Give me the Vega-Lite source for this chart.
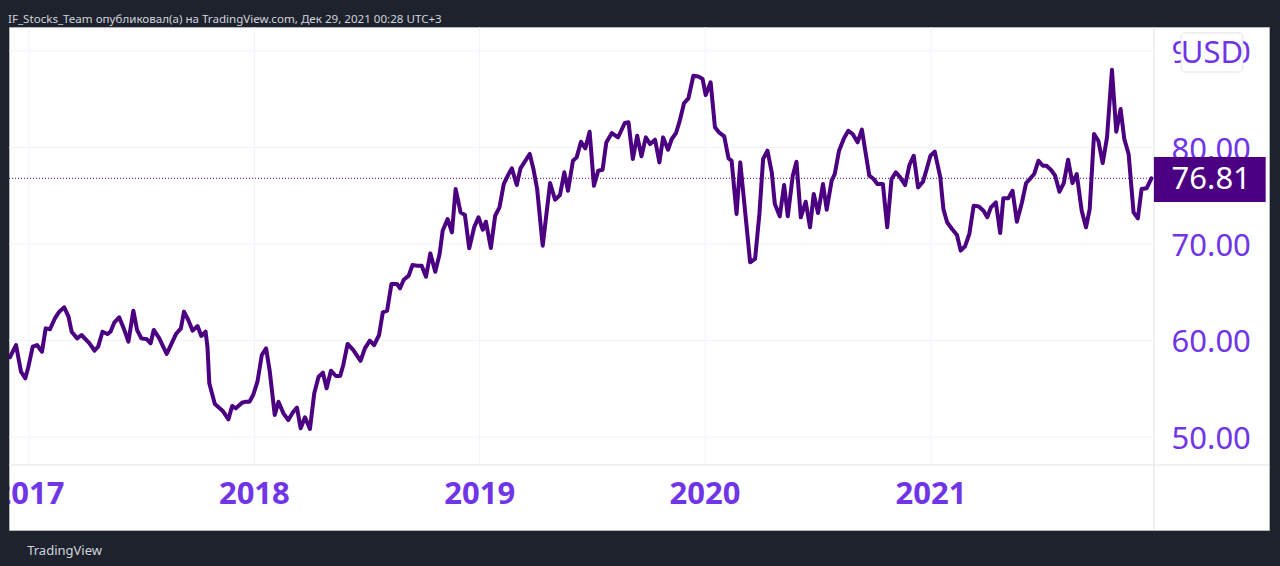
{
  "$schema": "https://vega.github.io/schema/vega-lite/v6.json",
  "width": 1260,
  "height": 503,
  "autosize": {"type": "none"},
  "padding": {"left": 9, "top": 27, "right": 11, "bottom": 36},
  "background": "#1e222d",
  "config": {"view": {"fill": "#ffffff", "stroke": "#b2b5be", "strokeWidth": 1}, "font": "Noto Sans"},
  "title": {"text": "IF_Stocks_Team опубликовал(а) на TradingView.com, Дек 29, 2021 00:28 UTC+3", "anchor": "start", "frame": "group", "fontSize": 11.6, "fontWeight": "normal", "color": "#d1d4dc", "font": "Noto Sans", "baseline": "alphabetic", "offset": 7, "dx": -1, "dy": 15},
  "datasets": {
    "prices": [
      {"date":"2016-12-01","price":58.26},{"date":"2016-12-11","price":59.53},{"date":"2016-12-19","price":56.77},{"date":"2016-12-26","price":56.08},{"date":"2016-12-31","price":57.29},
      {"date":"2017-01-07","price":59.36},{"date":"2017-01-14","price":59.53},{"date":"2017-01-22","price":58.84},{"date":"2017-01-28","price":61.26},{"date":"2017-02-04","price":61.16},
      {"date":"2017-02-12","price":62.30},{"date":"2017-02-19","price":62.99},{"date":"2017-02-27","price":63.44},{"date":"2017-03-06","price":62.47},{"date":"2017-03-11","price":60.91},
      {"date":"2017-03-20","price":60.22},{"date":"2017-03-27","price":60.57},{"date":"2017-04-09","price":59.71},{"date":"2017-04-17","price":58.94},{"date":"2017-04-23","price":59.36},
      {"date":"2017-04-30","price":60.91},{"date":"2017-05-08","price":60.67},{"date":"2017-05-13","price":60.91},{"date":"2017-05-19","price":61.85},{"date":"2017-05-27","price":62.40},
      {"date":"2017-06-04","price":61.16},{"date":"2017-06-11","price":59.88},{"date":"2017-06-19","price":63.09},{"date":"2017-06-25","price":61.09},{"date":"2017-07-02","price":60.22},
      {"date":"2017-07-11","price":60.12},{"date":"2017-07-17","price":59.71},{"date":"2017-07-22","price":61.09},{"date":"2017-07-31","price":60.22},{"date":"2017-08-12","price":58.60},
      {"date":"2017-08-20","price":59.71},{"date":"2017-08-27","price":60.67},{"date":"2017-09-04","price":61.26},{"date":"2017-09-09","price":62.99},{"date":"2017-09-16","price":62.12},
      {"date":"2017-09-23","price":61.02},{"date":"2017-10-01","price":61.50},{"date":"2017-10-07","price":60.47},{"date":"2017-10-14","price":60.91},{"date":"2017-10-17","price":59.36},
      {"date":"2017-10-20","price":55.56},{"date":"2017-10-29","price":53.42},{"date":"2017-11-11","price":52.69},{"date":"2017-11-20","price":51.83},{"date":"2017-11-26","price":53.21},
      {"date":"2017-12-02","price":52.97},{"date":"2017-12-12","price":53.55},{"date":"2017-12-18","price":53.66},{"date":"2017-12-24","price":53.66},{"date":"2017-12-30","price":54.35},
      {"date":"2018-01-06","price":55.73},{"date":"2018-01-13","price":58.50},{"date":"2018-01-20","price":59.19},{"date":"2018-01-26","price":56.77},{"date":"2018-02-03","price":52.28},
      {"date":"2018-02-09","price":53.66},{"date":"2018-02-17","price":52.45},{"date":"2018-02-25","price":51.76},{"date":"2018-03-04","price":52.52},{"date":"2018-03-11","price":53.04},
      {"date":"2018-03-17","price":50.90},{"date":"2018-03-24","price":52.04},{"date":"2018-04-01","price":50.83},{"date":"2018-04-08","price":54.53},{"date":"2018-04-15","price":56.25},
      {"date":"2018-04-22","price":56.66},{"date":"2018-04-28","price":55.05},{"date":"2018-05-05","price":56.87},{"date":"2018-05-13","price":56.32},{"date":"2018-05-20","price":56.32},
      {"date":"2018-05-25","price":57.46},{"date":"2018-06-01","price":59.64},{"date":"2018-06-10","price":59.02},{"date":"2018-06-22","price":57.88},{"date":"2018-06-29","price":59.19},
      {"date":"2018-07-07","price":59.98},{"date":"2018-07-14","price":59.53},{"date":"2018-07-22","price":60.57},{"date":"2018-07-28","price":62.92},{"date":"2018-08-04","price":63.09},
      {"date":"2018-08-11","price":65.85},{"date":"2018-08-20","price":65.85},{"date":"2018-08-25","price":65.41},{"date":"2018-08-31","price":66.30},{"date":"2018-09-08","price":66.72},
      {"date":"2018-09-14","price":67.82},{"date":"2018-09-22","price":67.75},{"date":"2018-09-29","price":67.75},{"date":"2018-10-06","price":66.61},{"date":"2018-10-13","price":69.03},
      {"date":"2018-10-21","price":67.13},{"date":"2018-10-28","price":68.96},{"date":"2018-11-02","price":71.38},{"date":"2018-11-10","price":72.59},{"date":"2018-11-17","price":71.21},
      {"date":"2018-11-23","price":75.70},{"date":"2018-12-01","price":73.28},{"date":"2018-12-08","price":73.00},{"date":"2018-12-15","price":69.55},{"date":"2018-12-23","price":71.73},
      {"date":"2018-12-30","price":72.77},{"date":"2019-01-06","price":71.48},{"date":"2019-01-11","price":72.31},{"date":"2019-01-19","price":69.59},{"date":"2019-01-26","price":72.93},
      {"date":"2019-02-02","price":73.80},{"date":"2019-02-09","price":76.22},{"date":"2019-02-16","price":77.15},{"date":"2019-02-22","price":77.84},{"date":"2019-03-02","price":76.11},
      {"date":"2019-03-08","price":77.84},{"date":"2019-03-23","price":79.33},{"date":"2019-03-29","price":77.77},{"date":"2019-04-04","price":75.70},{"date":"2019-04-13","price":69.83},
      {"date":"2019-04-25","price":76.32},{"date":"2019-05-03","price":74.59},{"date":"2019-05-11","price":75.08},{"date":"2019-05-18","price":77.43},{"date":"2019-05-24","price":75.52},
      {"date":"2019-06-01","price":78.63},{"date":"2019-06-07","price":78.98},{"date":"2019-06-14","price":80.60},{"date":"2019-06-21","price":79.91},{"date":"2019-06-28","price":81.64},
      {"date":"2019-07-05","price":76.04},{"date":"2019-07-12","price":77.60},{"date":"2019-07-19","price":77.70},{"date":"2019-07-25","price":80.53},{"date":"2019-08-03","price":81.50},
      {"date":"2019-08-13","price":81.05},{"date":"2019-08-24","price":82.54},{"date":"2019-08-30","price":82.61},{"date":"2019-09-06","price":78.81},{"date":"2019-09-13","price":81.22},
      {"date":"2019-09-20","price":79.09},{"date":"2019-09-27","price":81.05},{"date":"2019-10-04","price":80.36},{"date":"2019-10-12","price":80.81},{"date":"2019-10-19","price":78.46},
      {"date":"2019-10-25","price":81.05},{"date":"2019-11-02","price":79.77},{"date":"2019-11-08","price":80.88},{"date":"2019-11-15","price":81.50},{"date":"2019-11-21","price":82.78},
      {"date":"2019-11-28","price":84.61},{"date":"2019-12-05","price":85.09},{"date":"2019-12-13","price":87.44},{"date":"2019-12-21","price":87.37},{"date":"2019-12-28","price":87.10},
      {"date":"2020-01-02","price":85.44},{"date":"2020-01-10","price":86.76},{"date":"2020-01-17","price":82.09},{"date":"2020-01-23","price":81.60},{"date":"2020-02-01","price":81.16},
      {"date":"2020-02-08","price":78.88},{"date":"2020-02-13","price":78.63},{"date":"2020-02-21","price":73.11},{"date":"2020-02-27","price":78.46},{"date":"2020-03-06","price":73.28},
      {"date":"2020-03-14","price":68.10},{"date":"2020-03-22","price":68.45},{"date":"2020-03-29","price":73.11},{"date":"2020-04-04","price":78.81},{"date":"2020-04-11","price":79.67},
      {"date":"2020-04-18","price":77.43},{"date":"2020-04-23","price":74.15},{"date":"2020-05-01","price":72.87},{"date":"2020-05-08","price":76.11},{"date":"2020-05-14","price":72.87},
      {"date":"2020-05-22","price":77.08},{"date":"2020-05-28","price":78.53},{"date":"2020-06-04","price":72.77},{"date":"2020-06-12","price":74.38},{"date":"2020-06-19","price":71.73},
      {"date":"2020-06-25","price":75.18},{"date":"2020-07-02","price":73.21},{"date":"2020-07-10","price":76.22},{"date":"2020-07-16","price":73.55},{"date":"2020-07-24","price":76.56},
      {"date":"2020-07-29","price":77.25},{"date":"2020-08-05","price":79.67},{"date":"2020-08-13","price":80.95},{"date":"2020-08-20","price":81.74},{"date":"2020-08-27","price":81.40},
      {"date":"2020-09-04","price":80.54},{"date":"2020-09-11","price":81.85},{"date":"2020-09-16","price":79.84},{"date":"2020-09-23","price":77.08},{"date":"2020-09-30","price":76.74},
      {"date":"2020-10-06","price":76.22},{"date":"2020-10-15","price":76.22},{"date":"2020-10-22","price":71.73},{"date":"2020-10-29","price":76.74},{"date":"2020-11-05","price":77.43},
      {"date":"2020-11-12","price":76.91},{"date":"2020-11-20","price":76.11},{"date":"2020-11-27","price":78.19},{"date":"2020-12-04","price":79.15},{"date":"2020-12-11","price":75.87},
      {"date":"2020-12-19","price":76.46},{"date":"2020-12-25","price":77.77},{"date":"2020-12-31","price":79.15},{"date":"2021-01-07","price":79.57},{"date":"2021-01-16","price":76.91},
      {"date":"2021-01-21","price":73.63},{"date":"2021-01-27","price":72.25},{"date":"2021-02-04","price":71.55},{"date":"2021-02-12","price":70.93},{"date":"2021-02-18","price":69.31},
      {"date":"2021-02-25","price":69.76},{"date":"2021-03-04","price":71.04},{"date":"2021-03-11","price":73.97},{"date":"2021-03-19","price":73.90},{"date":"2021-03-27","price":73.45},
      {"date":"2021-04-02","price":72.77},{"date":"2021-04-08","price":73.80},{"date":"2021-04-16","price":74.31},{"date":"2021-04-23","price":71.14},{"date":"2021-04-28","price":74.73},
      {"date":"2021-05-06","price":74.73},{"date":"2021-05-13","price":75.52},{"date":"2021-05-20","price":72.31},{"date":"2021-05-28","price":74.25},{"date":"2021-06-04","price":76.32},
      {"date":"2021-06-11","price":76.81},{"date":"2021-06-17","price":77.25},{"date":"2021-06-24","price":78.63},{"date":"2021-07-01","price":78.11},{"date":"2021-07-07","price":78.11},
      {"date":"2021-07-14","price":77.70},{"date":"2021-07-21","price":77.08},{"date":"2021-07-28","price":75.42},{"date":"2021-08-04","price":76.32},{"date":"2021-08-11","price":78.74},
      {"date":"2021-08-18","price":76.32},{"date":"2021-08-25","price":77.25},{"date":"2021-09-02","price":73.45},{"date":"2021-09-09","price":71.73},{"date":"2021-09-15","price":73.63},
      {"date":"2021-09-22","price":81.40},{"date":"2021-09-29","price":80.70},{"date":"2021-10-06","price":78.39},{"date":"2021-10-13","price":81.05},{"date":"2021-10-21","price":88.05},
      {"date":"2021-10-28","price":81.64},{"date":"2021-11-04","price":83.99},{"date":"2021-11-10","price":80.88},{"date":"2021-11-17","price":79.33},{"date":"2021-11-25","price":73.28},
      {"date":"2021-12-02","price":72.66},{"date":"2021-12-08","price":75.70},{"date":"2021-12-16","price":75.77},{"date":"2021-12-24","price":76.81}
    ],
    "years": [
      {"yr":"2017-01-01","label":"2017"},{"yr":"2018-01-01","label":"2018"},{"yr":"2019-01-01","label":"2019"},{"yr":"2020-01-01","label":"2020"},{"yr":"2021-01-01","label":"2021"}
    ],
    "levels": [{"p":50},{"p":60},{"p":70},{"p":80},{"p":90}],
    "one": [{}]
  },
  "layer": [
    {
      "data": {"name": "levels"},
      "mark": {"type": "rule", "color": "#f0f3fa", "strokeWidth": 1},
      "encoding": {
        "y": {"field": "p", "type": "quantitative", "scale": {"domain": [40.36, 92.49], "nice": false, "zero": false}, "axis": null},
        "x": {"datum": {"year": 2016, "month": 11, "date": 29, "hours": 14}, "type": "temporal",
              "scale": {"domain": [{"year": 2016, "month": 11, "date": 29, "hours": 14}, {"year": 2022, "month": 7, "date": 2, "hours": 9}]}, "axis": null},
        "x2": {"datum": {"year": 2021, "month": 12, "date": 28}}
      }
    },
    {
      "data": {"name": "years"},
      "mark": {"type": "rule", "color": "#f0f3fa", "strokeWidth": 1},
      "encoding": {
        "x": {"field": "yr", "type": "temporal", "axis": null},
        "y": {"datum": 47.10, "type": "quantitative", "axis": null},
        "y2": {"datum": 92.49}
      }
    },
    {
      "data": {"name": "years"},
      "mark": {"type": "text", "clip": true, "fontSize": 31, "fontWeight": "bold", "font": "Noto Sans", "color": "#7035e6", "align": "center", "baseline": "middle"},
      "encoding": {
        "x": {"field": "yr", "type": "temporal", "axis": null},
        "y": {"datum": 44.0, "type": "quantitative", "axis": null},
        "text": {"field": "label"}
      }
    },
    {
      "data": {"name": "levels"},
      "mark": {"type": "text", "fontSize": 31, "font": "Noto Sans", "color": "#7035e6", "align": "right", "baseline": "middle", "dy": 3},
      "encoding": {
        "x": {"datum": {"year": 2022, "month": 6, "date": 3}, "type": "temporal", "axis": null},
        "y": {"field": "p", "type": "quantitative", "axis": null},
        "text": {"field": "p", "type": "quantitative", "format": ".2f"}
      }
    },
    {
      "data": {"name": "one"},
      "mark": {"type": "rule", "color": "#e0e3eb", "strokeWidth": 1},
      "encoding": {
        "x": {"datum": {"year": 2021, "month": 12, "date": 28}, "type": "temporal", "axis": null},
        "y": {"datum": 40.36, "type": "quantitative", "axis": null},
        "y2": {"datum": 92.49}
      }
    },
    {
      "data": {"name": "one"},
      "mark": {"type": "rule", "color": "#e0e3eb", "strokeWidth": 1},
      "encoding": {
        "y": {"datum": 47.10, "type": "quantitative", "axis": null},
        "x": {"datum": {"year": 2016, "month": 11, "date": 29, "hours": 14}, "type": "temporal", "axis": null},
        "x2": {"datum": {"year": 2022, "month": 7, "date": 2, "hours": 9}}
      }
    },
    {
      "data": {"name": "one"},
      "mark": {"type": "rule", "color": "#4b0082", "strokeWidth": 1, "strokeDash": [1, 2]},
      "encoding": {
        "y": {"datum": 76.81, "type": "quantitative", "axis": null},
        "x": {"datum": {"year": 2016, "month": 11, "date": 29, "hours": 14}, "type": "temporal", "axis": null},
        "x2": {"datum": {"year": 2021, "month": 12, "date": 28}}
      }
    },
    {
      "data": {"name": "prices"},
      "mark": {"type": "line", "color": "#4b0082", "strokeWidth": 4, "strokeJoin": "round", "strokeCap": "round", "clip": true},
      "encoding": {
        "x": {"field": "date", "type": "temporal", "axis": null},
        "y": {"field": "price", "type": "quantitative", "axis": null}
      }
    },
    {
      "data": {"name": "one"},
      "mark": {"type": "rect", "fill": "#4b0082"},
      "encoding": {
        "x": {"datum": {"year": 2021, "month": 12, "date": 28}, "type": "temporal", "axis": null},
        "x2": {"datum": {"year": 2022, "month": 6, "date": 27}},
        "y": {"datum": 79.02, "type": "quantitative", "axis": null},
        "y2": {"datum": 74.35}
      }
    },
    {
      "data": {"name": "one"},
      "mark": {"type": "text", "color": "#ffffff", "fontSize": 31, "font": "Noto Sans", "align": "right", "baseline": "middle", "dy": 2},
      "encoding": {
        "x": {"datum": {"year": 2022, "month": 6, "date": 3}, "type": "temporal", "axis": null},
        "y": {"datum": 76.81, "type": "quantitative", "axis": null},
        "text": {"datum": "76.81"}
      }
    },
    {
      "data": {"name": "one"},
      "mark": {"type": "rect", "fill": "#ffffff", "stroke": "#e0e3eb", "strokeWidth": 1, "cornerRadius": 4},
      "encoding": {
        "x": {"datum": {"year": 2022, "month": 2, "date": 10}, "type": "temporal", "axis": null},
        "x2": {"datum": {"year": 2022, "month": 5, "date": 21}},
        "y": {"datum": 91.87, "type": "quantitative", "axis": null},
        "y2": {"datum": 87.82}
      }
    },
    {
      "data": {"name": "one"},
      "mark": {"type": "text", "color": "#7035e6", "fontSize": 31, "font": "Noto Sans", "align": "center", "baseline": "middle", "dy": 2},
      "encoding": {
        "x": {"datum": {"year": 2022, "month": 4, "date": 1}, "type": "temporal", "axis": null},
        "y": {"datum": 89.85, "type": "quantitative", "axis": null},
        "text": {"datum": "USD"}
      }
    },
    {
      "data": {"name": "one"},
      "mark": {"type": "text", "color": "#d1d4dc", "fontSize": 13, "font": "Noto Sans", "align": "left", "baseline": "alphabetic", "dy": 4},
      "encoding": {
        "x": {"datum": {"year": 2016, "month": 12, "date": 29}, "type": "temporal", "axis": null},
        "y": {"datum": 38.19, "type": "quantitative", "axis": null},
        "text": {"datum": "TradingView"}
      }
    }
  ]
}
